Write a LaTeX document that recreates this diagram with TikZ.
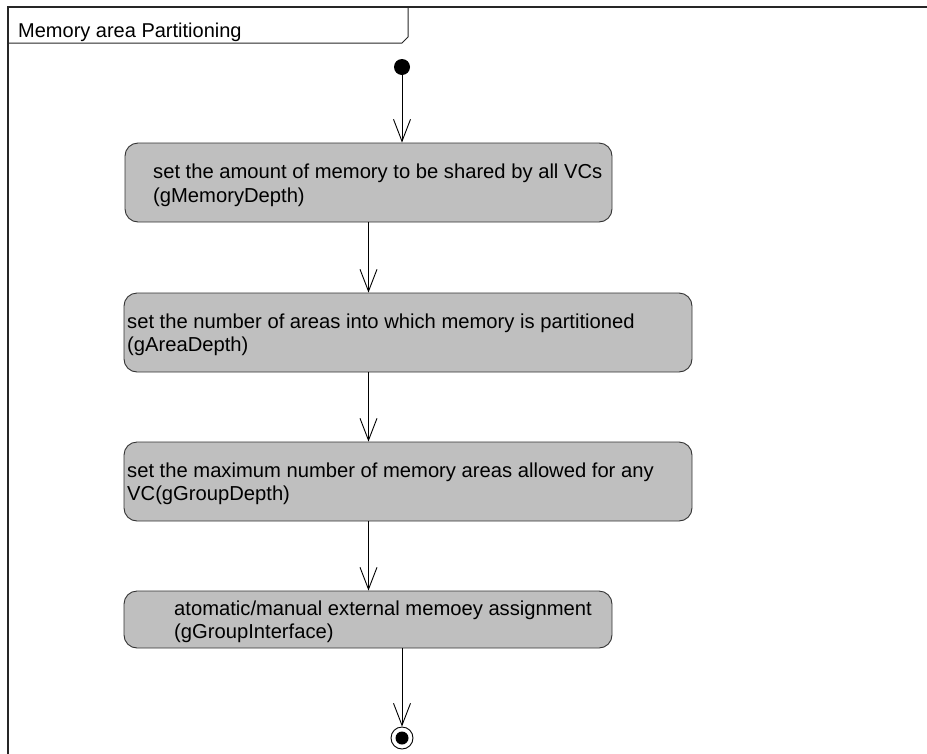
\documentclass[tikz,border=0pt]{standalone}
\usepackage{fontspec}
\setmainfont{Liberation Sans}
\usetikzlibrary{arrows.meta}

\tikzset{
  frameline/.style={draw=black!85, line width=1.3pt},
  activity/.style={draw=black!80, fill=black!25, line width=0.9pt, rounded corners=13pt,
    inner sep=0pt, rectangle},
  label/.style={anchor=west, align=left, inner sep=0pt,
    font=\fontsize{20.2}{23}\selectfont},
  flow/.style={draw=black, line width=0.9pt,
    -{Straight Barb[length=22pt,width=17pt,line width=0.9pt]}},
}

\begin{document}
\begin{tikzpicture}[x=1pt,y=-1pt]
\useasboundingbox (0,0) rectangle (927,753);

% diagram frame and its name tab
\draw[frameline] (927,7) -- (8,7) -- (8,760);
\draw[draw=black!85, line width=1pt] (8,43) -- (402,43) -- (408,37) -- (408,7);
\node[anchor=base west, inner sep=0pt, font=\fontsize{20}{23}\selectfont] (title) at (18,37) {Memory area Partitioning};

% initial and final states
\node[circle, fill=black, inner sep=0pt, minimum size=16pt] (init) at (402,67) {};
\node[circle, draw=black, line width=0.9pt, inner sep=0pt, minimum size=22pt] (final) at (402,738) {};
\node[circle, fill=black, inner sep=0pt, minimum size=13pt] (finaldot) at (final.center) {};

% activities
\node[activity, minimum width=487pt, minimum height=79pt] (b1) at (368.5,182.5) {};
\node[label] (t1) at (153,185) {set the amount of memory to be shared by all VCs\\[1pt](gMemoryDepth)};

\node[activity, minimum width=568pt, minimum height=79pt] (b2) at (408,332.5) {};
\node[label] (t2) at (127,335) {set the number of areas into which memory is partitioned\\(gAreaDepth)};

\node[activity, minimum width=568pt, minimum height=79pt] (b3) at (408,481.5) {};
\node[label] (t3) at (127,484) {set the maximum number of memory areas allowed for any\\VC(gGroupDepth)};

\node[activity, minimum width=488pt, minimum height=57pt] (b4) at (368,619.5) {};
\node[label] (t4) at (174,622) {atomatic/manual external memoey assignment\\(gGroupInterface)};

% control flow
\draw[flow] (init) -- (init |- b1.north);
\draw[flow] (b1.south) -- (b1.south |- b2.north);
\draw[flow] (b1.south |- b2.south) -- (b1.south |- b3.north);
\draw[flow] (b1.south |- b3.south) -- (b1.south |- b4.north);
\draw[flow] (final |- b4.south) -- (final.north);
\end{tikzpicture}
\end{document}
